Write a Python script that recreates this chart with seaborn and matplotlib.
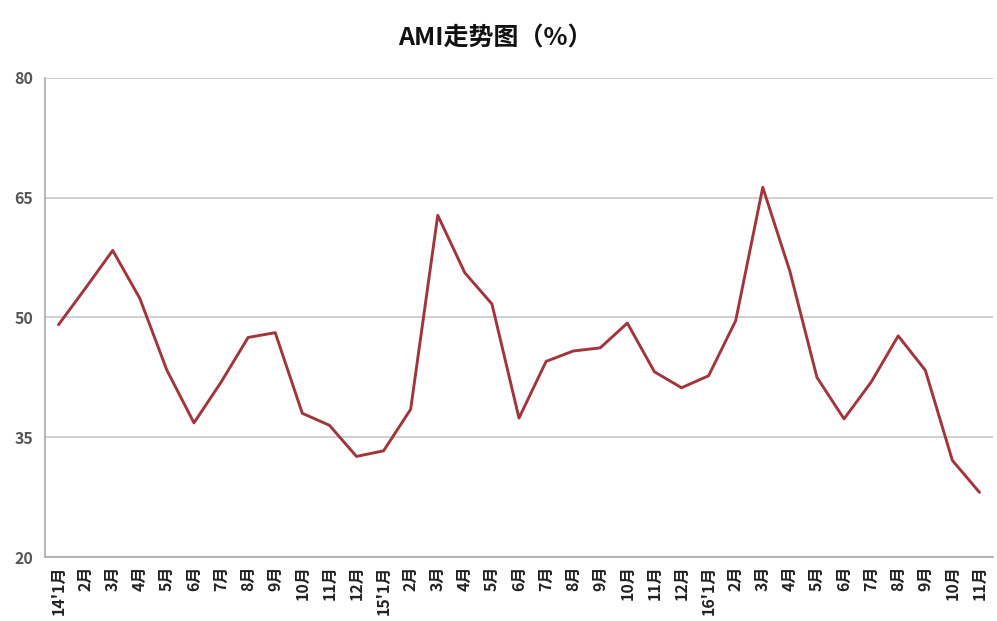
import numpy as np
import matplotlib
matplotlib.use("Agg")
import matplotlib.pyplot as plt
import seaborn as sns

# AMI monthly values, 2014-01 .. 2016-11
months = ["14'1月", "2月", "3月", "4月", "5月", "6月", "7月", "8月", "9月", "10月", "11月", "12月",
          "15'1月", "2月", "3月", "4月", "5月", "6月", "7月", "8月", "9月", "10月", "11月", "12月",
          "16'1月", "2月", "3月", "4月", "5月", "6月", "7月", "8月", "9月", "10月", "11月"]
ami = [49.1, 53.7, 58.4, 52.4, 43.4, 36.8, 41.9, 47.5, 48.1, 38.0, 36.5, 32.6,
       33.3, 38.5, 62.8, 55.6, 51.7, 37.4, 44.5, 45.8, 46.2, 49.3, 43.2, 41.2,
       42.7, 49.6, 66.3, 55.8, 42.5, 37.3, 41.9, 47.7, 43.4, 32.1, 28.1]
y_ticks = [20, 35, 50, 65, 80]

sns.set_style("white")
plt.rcParams['font.family'] = ['Noto Sans CJK SC', 'DejaVu Sans']

fig = plt.figure(figsize=(9.97, 6.21), dpi=100)
ax = fig.add_axes([45 / 997, 1 - 557 / 621, 948 / 997, 479 / 621])

idx = np.arange(len(months))
sns.lineplot(x=idx, y=ami, ax=ax, color="#A0363C", linewidth=2.1)

ax.set_ylim(20, 80)
ax.set_yticks(y_ticks)
ax.set_xlim(-0.5, len(months) - 0.5)
ax.set_xticks(idx)
ax.set_xticklabels(months, rotation=90, fontsize=11.5, fontweight="bold", color="#222222")
ax.set_xticks(np.arange(-0.5, len(months), 1), minor=True)
ax.tick_params(axis="x", which="major", length=0, pad=6)
ax.tick_params(axis="x", which="minor", length=5, color="#aaaaaa", width=1)
ax.tick_params(axis="y", length=5, color="#aaaaaa", labelsize=11.5, labelcolor="#555555")
for lab in ax.get_yticklabels():
    lab.set_fontweight("bold")

ax.grid(axis="y", color="#c8c8c8", linewidth=1.2)
ax.set_axisbelow(True)
for side in ["top", "right"]:
    ax.spines[side].set_visible(False)
for side in ["left", "bottom"]:
    ax.spines[side].set_color("#aaaaaa")
    ax.spines[side].set_linewidth(1.2)

fig.text(0.497, 1 - 38 / 621, "AMI走势图（%）", ha="center", va="center",
         fontsize=18, fontweight="bold", color="#111111")

fig.savefig("out.png", dpi=100)
